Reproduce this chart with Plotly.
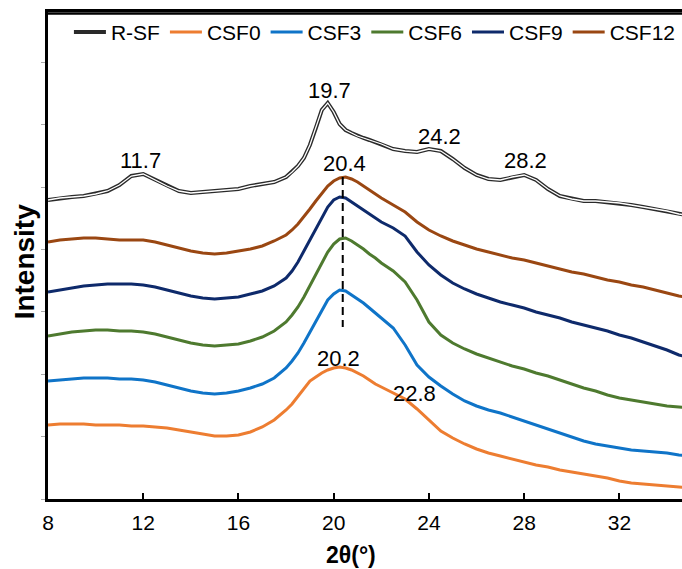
import plotly.graph_objects as go

two_theta = [8, 8.5, 9, 9.5, 10, 10.5, 11, 11.5, 12, 12.5, 13, 13.5, 14, 14.5, 15, 15.5, 16, 16.5, 17, 17.5,
             18, 18.25, 18.5, 18.75, 19, 19.25, 19.5, 19.75, 20, 20.25, 20.5, 20.75, 21, 21.25, 21.5, 21.75,
             22, 22.5, 23, 23.5, 24, 24.5, 25, 25.5, 26, 26.5, 27, 27.5, 28, 28.5, 29, 29.5, 30, 30.5, 31, 31.5,
             32, 32.5, 33, 33.5, 34, 34.5, 35]

r_sf = [299, 301, 302, 303, 305, 308, 314, 323, 325, 319, 313, 308, 306, 307, 308, 309, 310, 313, 315, 317,
        322, 327, 333, 341, 354, 371, 389, 396, 387, 375, 369, 366, 363, 361, 359, 357,
        355, 350, 348, 347, 350, 348, 340, 331, 324, 320, 319, 322, 324, 319, 310, 303, 300, 298, 298, 297,
        296, 294, 292, 290, 288, 285, 283]
csf12 = [257, 259, 260, 261, 261, 260, 259, 259, 259, 257, 254, 251, 248, 246, 245, 246, 248, 250, 253, 258,
         264, 269, 275, 282, 290, 298, 306, 313, 318, 321, 322, 320, 317, 313, 309, 305,
         301, 294, 287, 277, 269, 263, 258, 254, 250, 247, 244, 241, 239, 236, 233, 230, 227, 225, 222, 219,
         217, 214, 212, 209, 206, 203, 201]
csf9 = [207, 209, 211, 213, 214, 215, 215, 215, 214, 212, 209, 206, 203, 201, 200, 201, 202, 205, 208, 213,
        221, 228, 237, 248, 259, 270, 282, 292, 299, 302, 301, 297, 293, 289, 285, 281,
        277, 271, 263, 247, 234, 224, 216, 210, 205, 201, 197, 194, 191, 187, 184, 181, 177, 174, 171, 168,
        164, 161, 157, 153, 149, 144, 141]
csf6 = [163, 165, 167, 168, 169, 169, 168, 168, 167, 165, 162, 159, 156, 154, 153, 154, 155, 158, 162, 168,
        177, 184, 192, 202, 213, 224, 236, 247, 255, 260, 261, 258, 254, 250, 245, 241,
        236, 228, 217, 199, 177, 164, 156, 150, 145, 141, 137, 133, 130, 126, 123, 119, 115, 111, 108, 104,
        101, 99, 97, 95, 93, 92, 91]
csf3 = [118, 119, 120, 121, 121, 121, 120, 120, 119, 117, 114, 111, 108, 106, 105, 106, 108, 111, 115, 121,
        131, 138, 146, 156, 167, 178, 189, 199, 205, 209, 208, 204, 200, 196, 191, 186,
        181, 171, 154, 134, 122, 113, 105, 98, 93, 89, 86, 82, 78, 74, 70, 66, 62, 58, 55, 53,
        51, 49, 48, 47, 46, 44, 43]
csf0 = [74, 75, 75, 75, 74, 74, 74, 73, 73, 72, 71, 69, 67, 65, 63, 63, 64, 67, 72, 79,
        89, 95, 103, 111, 118, 122, 126, 129, 131, 132, 131, 129, 126, 123, 119, 115,
        112, 106, 100, 90, 79, 68, 61, 55, 50, 46, 43, 40, 37, 34, 32, 29, 27, 25, 23, 21,
        18, 16, 15, 14, 13, 12, 11]

series_names = ["CSF0", "CSF3", "CSF6", "CSF9", "CSF12"]
series_values = [csf0, csf3, csf6, csf9, csf12]
series_colors = ["#ED7D31", "#0F74C8", "#4E7A2F", "#0E2A6B", "#9A4712"]

peak_labels = ["11.7", "19.7", "24.2", "28.2", "20.4", "20.2", "22.8"]
peak_x = [11.88, 19.83, 24.44, 28.05, 20.47, 20.22, 23.41]
peak_y = [339, 409, 363, 339, 336, 141, 106]

dash_x = [20.38, 20.38]
dash_y = [322, 172]

y_ticks = [0, 62.4, 124.8, 187.2, 249.6, 312, 374.4, 436.8]

x_title = "<b>2θ(°)</b>"
y_title = "<b>Intensity</b>"

FONT = "Liberation Sans, Arial, sans-serif"

fig = go.Figure()

# R-SF: double line look (dark outline, white core)
fig.add_trace(go.Scatter(x=two_theta, y=r_sf, mode="lines", name="R-SF",
                         line=dict(color="#2a2a2a", width=4), legendgroup="rsf"))
fig.add_trace(go.Scatter(x=two_theta, y=r_sf, mode="lines", name="R-SF", showlegend=False,
                         line=dict(color="white", width=1.3), legendgroup="rsf", hoverinfo="skip"))

for name, vals, col in zip(series_names, series_values, series_colors):
    fig.add_trace(go.Scatter(x=two_theta, y=vals, mode="lines", name=name,
                             line=dict(color=col, width=3)))

fig.add_trace(go.Scatter(x=dash_x, y=dash_y, mode="lines", showlegend=False,
                         line=dict(color="black", width=2, dash="8px,5px"), hoverinfo="skip"))

for t, xx, yy in zip(peak_labels, peak_x, peak_y):
    fig.add_annotation(x=xx, y=yy, text=t, showarrow=False, xanchor="center", yanchor="middle",
                       font=dict(size=22, color="black", family=FONT))

# axis titles (placed to match the reference)
fig.add_annotation(xref="paper", yref="paper", x=0.478, y=-0.114, text=x_title, showarrow=False,
                   xanchor="center", yanchor="middle", font=dict(size=23, color="black", family=FONT))
fig.add_annotation(xref="paper", yref="paper", x=-0.037, y=0.487, text=y_title, showarrow=False,
                   textangle=-90, xanchor="center", yanchor="middle",
                   font=dict(size=28, color="black", family=FONT))

# top frame line (drawn just inside the plot top)
fig.add_shape(type="line", xref="paper", yref="paper", x0=0, x1=1, y0=0.997, y1=0.997,
              line=dict(color="black", width=2.5), layer="above")

fig.update_layout(
    width=682, height=569,
    margin=dict(l=48, r=0, t=12, b=70, autoexpand=False),
    paper_bgcolor="white", plot_bgcolor="white",
    font=dict(family=FONT, color="black"),
    showlegend=True,
    legend=dict(orientation="h", x=0.033, y=0.958, xanchor="left", yanchor="middle",
                itemwidth=32,
                font=dict(size=21, family=FONT), bgcolor="rgba(255,255,255,0)", tracegroupgap=0),
    xaxis=dict(range=[8, 34.63], tick0=8, dtick=4, ticks="inside", ticklen=6, tickwidth=2,
               tickcolor="black", showline=True, linewidth=2.5, linecolor="black", mirror=True,
               showgrid=False, zeroline=False, tickfont=dict(size=21, family=FONT), automargin=False,
               ticklabelstandoff=3),
    yaxis=dict(range=[0, 487], tickvals=y_ticks, ticks="outside", ticklen=4, tickwidth=1,
               tickcolor="#aaaaaa", showticklabels=False, showline=True, linewidth=2.5,
               linecolor="black", showgrid=False, zeroline=False, automargin=False),
)

fig.write_html("out.html", config={"displayModeBar": False},
               post_script="document.body.style.margin='0px';document.body.style.overflow='hidden';")
